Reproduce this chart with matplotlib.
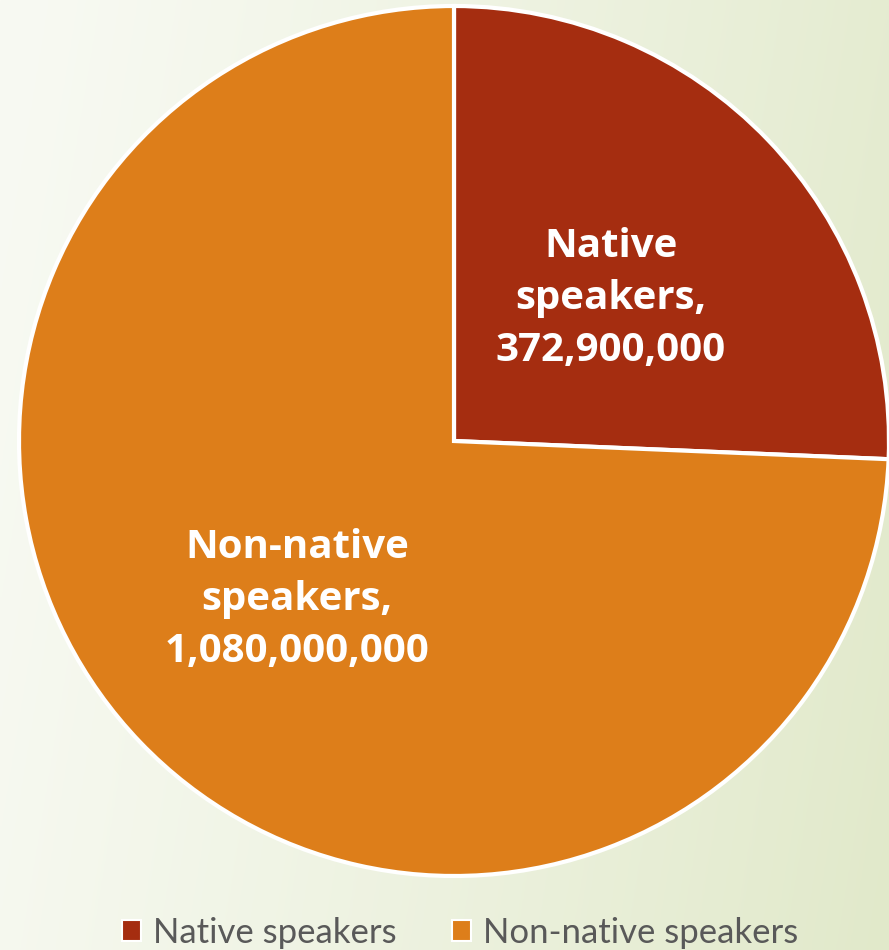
import numpy as np
import matplotlib
matplotlib.use("Agg")
import matplotlib.pyplot as plt
from matplotlib.patches import Patch

categories = ["Native speakers", "Non-native speakers"]
values = [372_900_000, 1_080_000_000]
label_texts = ["Native\nspeakers,\n372,900,000", "Non-native\nspeakers,\n1,080,000,000"]
colors = ["#a52d10", "#dd7e1a"]

W, H = 889, 950
fig = plt.figure(figsize=(W / 100, H / 100), dpi=100)

# background gradient
bg = fig.add_axes([0, 0, 1, 1])
xs = np.linspace(0, 1, 300)
ys = np.linspace(0, 1, 300)
X, Y = np.meshgrid(xs, ys)
t = np.clip(0.85 * X + 0.15 * (1 - Y), 0, 1) ** 1.2
c0 = np.array([0xf8, 0xfa, 0xf3]) / 255
c1 = np.array([0xe1, 0xe9, 0xca]) / 255
img = c0[None, None, :] * (1 - t[..., None]) + c1[None, None, :] * t[..., None]
bg.imshow(img, extent=[0, 1, 0, 1], aspect="auto", origin="lower")
bg.axis("off")

# pie axes: center (454, 441), radius 435 px
cx, cy, r = 454, 441, 435
ax = fig.add_axes([(cx - r) / W, (H - cy - r) / H, 2 * r / W, 2 * r / H])
wedges, texts = ax.pie(
    values, labels=label_texts, colors=colors, startangle=90, counterclock=False,
    radius=1, labeldistance=0.5,
    wedgeprops=dict(edgecolor="white", linewidth=3),
    textprops=dict(color="white", fontsize=29, fontweight="bold",
                   family=["Open Sans", "DejaVu Sans"], linespacing=1.42),
)
for tx in texts:
    tx.set_ha("center")
    tx.set_va("center")
    tx.set_multialignment("center")
    x0, y0 = tx.get_position()
    tx.set_position((x0, y0 - 8 / r))
ax.set_xlim(-1, 1)
ax.set_ylim(-1, 1)
ax.set_aspect("equal")
ax.axis("off")

handles = [Patch(facecolor=c, edgecolor="white", linewidth=1.5) for c in colors]
leg = fig.legend(handles, categories, loc="center", bbox_to_anchor=(460 / W, 1 - 933 / H),
                 ncol=2, frameon=False, handlelength=0.55, handleheight=0.55,
                 handletextpad=0.35, columnspacing=1.6,
                 prop=dict(family=["Lato", "DejaVu Sans"], size=25))
for t_ in leg.get_texts():
    t_.set_color("#595959")

fig.savefig("out.png", dpi=100)
